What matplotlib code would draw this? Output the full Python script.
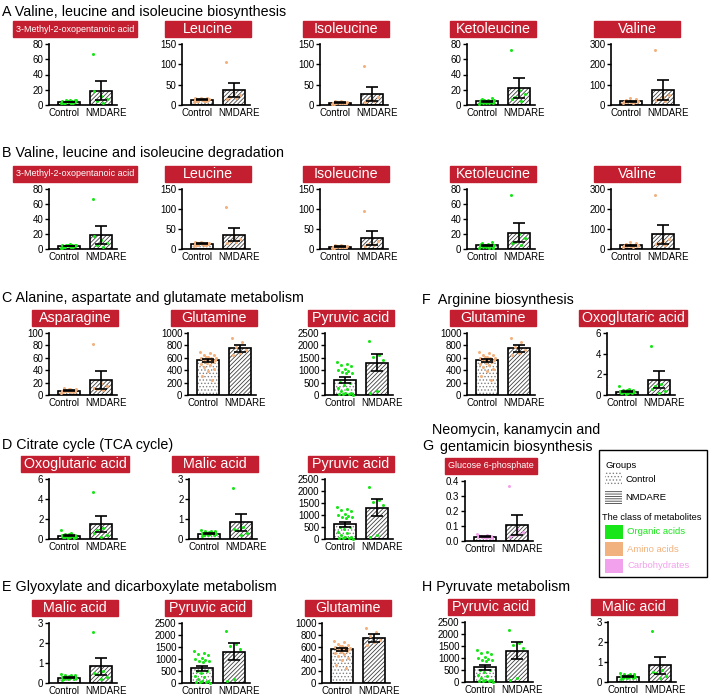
import matplotlib
matplotlib.use('Agg')
import matplotlib.pyplot as plt
import matplotlib.patches as mpatches
import numpy as np

plt.rcParams['font.family'] = ['Liberation Sans', 'DejaVu Sans']
plt.rcParams['hatch.linewidth'] = 0.6

W, H = 709, 698

groups = ['Control', 'NMDARE']

# ---- data (points, means, SEMs) ----
m3_ctrl = [2, 3, 3, 4, 4, 5, 5, 6, 6, 7, 3, 4, 5, 2, 3, 4, 6, 5, 4, 3]
m3_nmd = [67, 3, 5, 8, 12, 18]
m3_mean = [4, 19]
m3_sem = [0.5, 12]

leu_ctrl = [8, 10, 11, 12, 12, 13, 13, 14, 14, 15, 15, 16, 17, 18, 12, 11, 13, 14, 10, 9]
leu_nmd = [105, 18, 20, 25, 30, 15]
leu_mean = [13, 36]
leu_sem = [1, 17]

ile_ctrl = [3, 4, 5, 5, 6, 6, 7, 7, 8, 9, 10, 4, 5, 6, 7, 5, 6, 8, 3, 6]
ile_nmd = [95, 10, 12, 20, 15, 8]
ile_mean = [6, 27]
ile_sem = [0.5, 17]

kleu_ctrl = [1, 2, 3, 4, 4, 5, 5, 6, 6, 7, 8, 9, 3, 4, 5, 6, 2, 5, 7, 4]
kleu_nmd = [72, 5, 10, 15, 20, 8]
kleu_mean = [5, 22]
kleu_sem = [0.6, 13]

val_ctrl = [10, 12, 14, 15, 16, 17, 18, 18, 20, 22, 25, 30, 35, 15, 16, 19, 21, 14, 18, 20]
val_nmd = [270, 20, 30, 50, 40, 25]
val_mean = [18, 73]
val_sem = [2, 49]

asn_ctrl = [4, 5, 6, 6, 7, 7, 8, 8, 9, 10, 11, 5, 6, 7, 8, 7, 6, 9, 5, 7]
asn_nmd = [83, 8, 10, 15, 20, 12]
asn_mean = [7, 24]
asn_sem = [0.5, 14]

gln_ctrl = [700, 680, 650, 640, 620, 600, 600, 580, 570, 560, 550, 540, 520, 500,
            480, 450, 420, 380, 300, 250, 620, 590]
gln_nmd = [920, 850, 780, 720, 680, 640]
gln_mean = [560, 750]
gln_sem = [25, 60]

pyr_ctrl = [1320, 1250, 1200, 1150, 1050, 1000, 950, 920, 900, 880, 520, 480,
            420, 300, 250, 150, 100, 80, 60, 40, 30, 20]
pyr_nmd = [2170, 1620, 1550, 1400, 150, 90]
pyr_mean = [610, 1300]
pyr_sem = [110, 350]

oxo_ctrl = [0.9, 0.6, 0.5, 0.45, 0.4, 0.35, 0.3, 0.3, 0.25, 0.2, 0.2, 0.15, 0.1,
            0.4, 0.3, 0.25, 0.35, 0.5, 0.2, 0.3]
oxo_nmd = [4.75, 1.1, 0.9, 0.4, 0.2, 0.6]
oxo_mean = [0.33, 1.5]
oxo_sem = [0.05, 0.8]

mal_ctrl = [0.45, 0.42, 0.4, 0.38, 0.35, 0.32, 0.3, 0.28, 0.27, 0.25, 0.22, 0.2,
            0.18, 0.15, 0.3, 0.25, 0.35, 0.28, 0.22, 0.3]
mal_nmd = [2.55, 0.6, 0.45, 0.3, 0.2, 0.5]
mal_mean = [0.27, 0.83]
mal_sem = [0.02, 0.42]

g6p_ctrl = [0.045, 0.04, 0.035, 0.032, 0.03, 0.03, 0.028, 0.025, 0.022, 0.02,
            0.035, 0.03, 0.028, 0.04, 0.025, 0.033, 0.027, 0.03]
g6p_nmd = [0.37, 0.05, 0.04, 0.06, 0.08, 0.03]
g6p_mean = [0.03, 0.105]
g6p_sem = [0.003, 0.068]

class_colors = {'Organic acids': '#19E619', 'Amino acids': '#F2B27F',
                'Carbohydrates': '#F2A2EC'}

metab = {
    'm3': dict(label='3-Methyl-2-oxopentanoic acid', cls='Organic acids', ctrl=m3_ctrl,
               nmd=m3_nmd, mean=m3_mean, sem=m3_sem, ymax=80, step=20),
    'leu': dict(label='Leucine', cls='Amino acids', ctrl=leu_ctrl, nmd=leu_nmd,
                mean=leu_mean, sem=leu_sem, ymax=150, step=50),
    'ile': dict(label='Isoleucine', cls='Amino acids', ctrl=ile_ctrl, nmd=ile_nmd,
                mean=ile_mean, sem=ile_sem, ymax=150, step=50),
    'kleu': dict(label='Ketoleucine', cls='Organic acids', ctrl=kleu_ctrl, nmd=kleu_nmd,
                 mean=kleu_mean, sem=kleu_sem, ymax=80, step=20),
    'val': dict(label='Valine', cls='Amino acids', ctrl=val_ctrl, nmd=val_nmd,
                mean=val_mean, sem=val_sem, ymax=300, step=100),
    'asn': dict(label='Asparagine', cls='Amino acids', ctrl=asn_ctrl, nmd=asn_nmd,
                mean=asn_mean, sem=asn_sem, ymax=100, step=20),
    'gln': dict(label='Glutamine', cls='Amino acids', ctrl=gln_ctrl, nmd=gln_nmd,
                mean=gln_mean, sem=gln_sem, ymax=1000, step=200),
    'pyr': dict(label='Pyruvic acid', cls='Organic acids', ctrl=pyr_ctrl, nmd=pyr_nmd,
                mean=pyr_mean, sem=pyr_sem, ymax=2500, step=500),
    'oxo': dict(label='Oxoglutaric acid', cls='Organic acids', ctrl=oxo_ctrl, nmd=oxo_nmd,
                mean=oxo_mean, sem=oxo_sem, ymax=6, step=2),
    'mal': dict(label='Malic acid', cls='Organic acids', ctrl=mal_ctrl, nmd=mal_nmd,
                mean=mal_mean, sem=mal_sem, ymax=3, step=1),
    'g6p': dict(label='Glucose 6-phosphate', cls='Carbohydrates', ctrl=g6p_ctrl,
                nmd=g6p_nmd, mean=g6p_mean, sem=g6p_sem, ymax=0.4, step=0.1),
}

# panel layout in pixels: key, y-axis x, top of axis, zero line
layout = [
    ('m3', 49, 44, 105), ('leu', 182, 44, 105), ('ile', 320, 44, 105),
    ('kleu', 467, 44, 105), ('val', 611, 44, 105),
    ('m3', 49, 189, 249), ('leu', 182, 189, 249), ('ile', 320, 189, 249),
    ('kleu', 467, 189, 249), ('val', 611, 189, 249),
    ('asn', 49, 333, 395), ('gln', 188, 333, 395), ('pyr', 325, 333, 395),
    ('gln', 467, 333, 395), ('oxo', 607, 333, 395),
    ('oxo', 49, 479, 539), ('mal', 189, 479, 539), ('pyr', 325, 479, 539),
    ('g6p', 465, 481, 541),
    ('mal', 49, 623, 683), ('pyr', 182, 623, 683), ('gln', 322, 623, 683),
    ('pyr', 465, 622, 682), ('mal', 608, 622, 682),
]

sections = [
    (2, 12, 'A Valine, leucine and isoleucine biosynthesis', 'left'),
    (2, 153, 'B Valine, leucine and isoleucine degradation', 'left'),
    (2, 298, 'C Alanine, aspartate and glutamate metabolism', 'left'),
    (422, 300, 'F  Arginine biosynthesis', 'left'),
    (2, 445, 'D Citrate cycle (TCA cycle)', 'left'),
    (516, 430, 'Neomycin, kanamycin and', 'center'),
    (422, 446, 'G', 'left'),
    (516, 447, 'gentamicin biosynthesis', 'center'),
    (2, 587, 'E Glyoxylate and dicarboxylate metabolism', 'left'),
    (422, 587, 'H Pyruvate metabolism', 'left'),
]

RED = '#C41F30'
AXW = 68

fig = plt.figure(figsize=(W / 100, H / 100), dpi=100)
renderer = fig.canvas.get_renderer()


def fx(x):
    return x / W


def fy(y):
    return 1 - y / H


def draw_panel(key, sx, top, zero):
    m = metab[key]
    col = class_colors[m['cls']]
    ax = fig.add_axes([fx(sx), fy(zero), AXW / W, (zero - top) / H])
    ax.set_facecolor('none')
    x = np.arange(2)
    ax.bar(0, m['mean'][0], width=0.69, color='white', edgecolor='#808080',
           hatch='.....', linewidth=0, zorder=1)
    ax.bar(1, m['mean'][1], width=0.69, color='white', edgecolor='#404040',
           hatch='////////', linewidth=0, zorder=1)
    ax.bar(x, m['mean'], width=0.69, fill=False, edgecolor='black',
           linewidth=1.2, zorder=2)
    for i, pts in enumerate([m['ctrl'], m['nmd']]):
        n = len(pts)
        off = ((np.arange(n) * 0.618) % 1 - 0.5) * 0.5
        ax.plot(i + off, pts, 'o', ms=2.2, color=col, mec='none', zorder=3,
                clip_on=False)
    ax.errorbar(x, m['mean'], yerr=m['sem'], fmt='none', ecolor='black',
                elinewidth=1.2, capsize=4, capthick=1.2, zorder=4)
    ax.set_xlim(-0.625, 1.5)
    ax.set_ylim(0, m['ymax'])
    ax.set_yticks(np.arange(0, m['ymax'] + m['step'] / 2, m['step']))
    # labels sit a little outside the bar centres, as in the original
    ax.set_xticks([-0.15, 1.17], groups)
    ax.tick_params(axis='x', length=0, pad=2.5, labelsize=6.9)
    ax.tick_params(axis='y', length=3, width=1, pad=1, labelsize=7)
    for s in ['top', 'right']:
        ax.spines[s].set_visible(False)
    for s in ['left', 'bottom']:
        ax.spines[s].set_linewidth(1.2)

    # red title box
    fs = 6.5 if len(m['label']) > 17 else 10.3
    cx = sx + 26
    t = fig.text(fx(cx), fy(top - 15), m['label'], color='white', fontsize=fs,
                 ha='center', va='center', zorder=3)
    w = max(86, t.get_window_extent(renderer).width + 6)
    fig.add_artist(mpatches.Rectangle((fx(cx - w / 2), fy(top - 7)), w / W, 16 / H,
                                      transform=fig.transFigure, color=RED, zorder=1))


for key, sx, top, zero in layout:
    draw_panel(key, sx, top, zero)

for x, y, s, ha in sections:
    fig.text(fx(x), fy(y), s, fontsize=10.3, ha=ha, va='center')

# legend box
fig.add_artist(mpatches.Rectangle((fx(599), fy(577)), 108 / W, 127 / H,
                                  transform=fig.transFigure, fill=False,
                                  edgecolor='black', linewidth=1))
fig.text(fx(605), fy(465), 'Groups', fontsize=6.8, va='center')
fig.add_artist(mpatches.Rectangle((fx(605), fy(485)), 17 / W, 13 / H,
                                  transform=fig.transFigure, facecolor='white',
                                  edgecolor='#808080', hatch='.....', linewidth=0))
fig.text(fx(625), fy(479), 'Control', fontsize=6.8, va='center')
fig.add_artist(mpatches.Rectangle((fx(605), fy(505)), 17 / W, 15 / H,
                                  transform=fig.transFigure, facecolor='white',
                                  edgecolor='#404040', hatch='-------', linewidth=0))
fig.text(fx(625), fy(497), 'NMDARE', fontsize=6.8, va='center')
fig.text(fx(602), fy(517), 'The class of metabolites', fontsize=6.6, va='center')
for i, (name, c) in enumerate(class_colors.items()):
    y0 = 525 + i * 17
    fig.add_artist(mpatches.Rectangle((fx(605), fy(y0 + 14)), 18 / W, 14 / H,
                                      transform=fig.transFigure, color=c, linewidth=0))
    fig.text(fx(627), fy(y0 + 7), name, fontsize=6.8, va='center', color=c)

fig.savefig('out.png', dpi=100)
